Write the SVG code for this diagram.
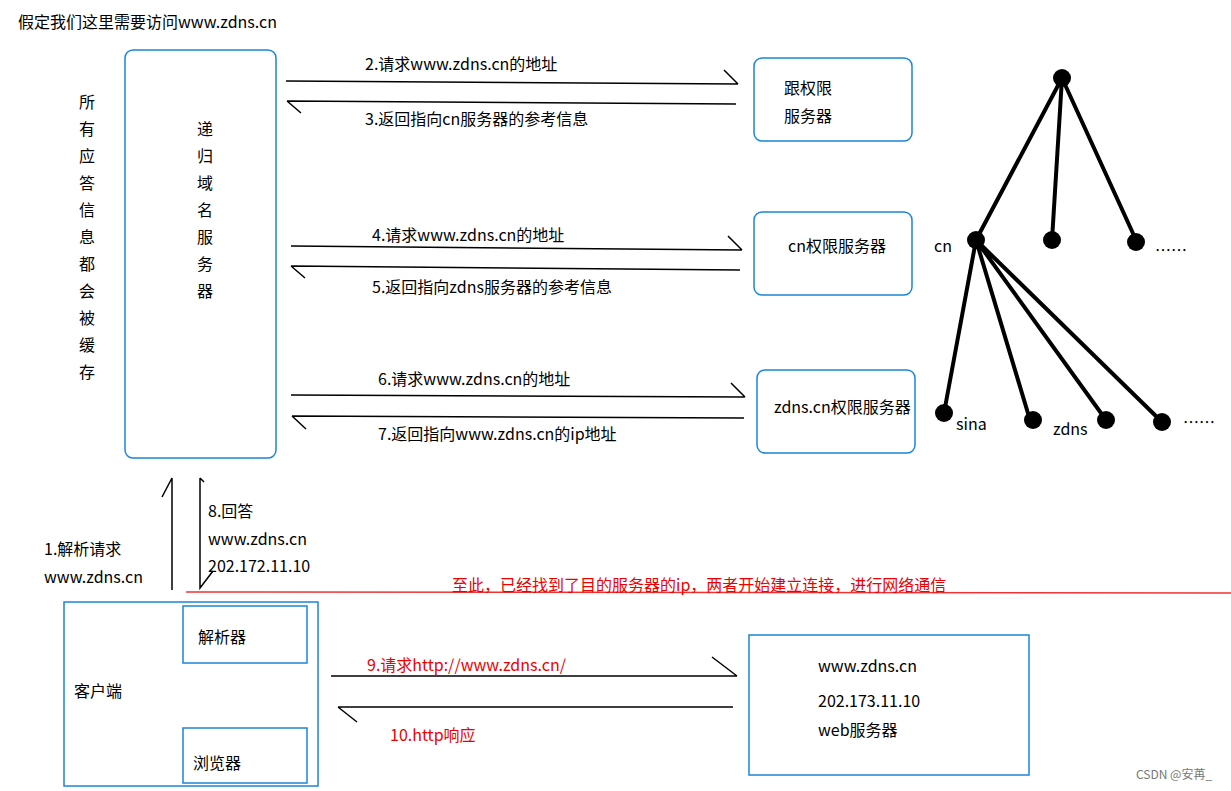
<svg xmlns="http://www.w3.org/2000/svg" width="1231" height="791" viewBox="0 0 1231 791">
<style>
text{font-family:"Microsoft YaHei","Noto Sans CJK SC","Liberation Sans",sans-serif;font-size:16px;fill:#000}
.r{fill:#e00}
.box{fill:#fff;stroke:#1a86d8;stroke-width:1.5}
.ln{stroke:#000;stroke-width:1.5;fill:none}
.tr{stroke:#000;stroke-width:4}
</style>
<rect width="1231" height="791" fill="#fff"/>
<text x="18" y="28">假定我们这里需要访问www.zdns.cn</text>
<g id="cache-note"><text x="79" y="108">所</text><text x="79" y="135">有</text><text x="79" y="162">应</text><text x="79" y="189">答</text><text x="79" y="216">信</text><text x="79" y="243">息</text><text x="79" y="270">都</text><text x="79" y="297">会</text><text x="79" y="324">被</text><text x="79" y="351">缓</text><text x="79" y="378">存</text></g>
<g id="recursive"><rect class="box" x="125" y="50" width="151" height="408" rx="8"/>
<text x="197" y="135">递</text><text x="197" y="162">归</text><text x="197" y="189">域</text><text x="197" y="216">名</text><text x="197" y="243">服</text><text x="197" y="270">务</text><text x="197" y="297">器</text></g>
<g id="root"><rect class="box" x="754" y="58" width="158" height="83" rx="8"/><text x="784" y="94">跟权限</text><text x="784" y="122">服务器</text></g>
<g id="cn"><rect class="box" x="754" y="212" width="158" height="83" rx="8"/><text x="788" y="252">cn权限服务器</text></g>
<g id="zdns"><rect class="box" x="757" y="370" width="158" height="83" rx="8"/><text x="774" y="413">zdns.cn权限服务器</text></g>
<g id="client"><rect class="box" x="64" y="602" width="254" height="184" rx="0"/><text x="74" y="697">客户端</text></g>
<g id="resolver"><rect class="box" x="183" y="606" width="124" height="57"/><text x="198" y="643">解析器</text></g>
<g id="browser"><rect class="box" x="183" y="728" width="124" height="55"/><text x="193" y="769">浏览器</text></g>
<g id="web"><rect class="box" x="749" y="635" width="280" height="140" rx="0"/><text x="818" y="672">www.zdns.cn</text><text x="818" y="707">202.173.11.10</text><text x="818" y="736">web服务器</text></g>
<g id="connectors">
<path class="ln" d="M286 81 L738 84 M724 70 L738 84"/>
<path class="ln" d="M736 104 L287 101 M287 101 L301 113"/>
<path class="ln" d="M291 246 L742 250 M728 236 L742 250"/>
<path class="ln" d="M740 270 L291 266 M291 266 L305 278"/>
<path class="ln" d="M291 395 L745 397 M731 383 L745 397"/>
<path class="ln" d="M744 418 L292 416 M292 416 L306 429"/>
<path class="ln" d="M172 590 L172 478 L162 497"/>
<path class="ln" d="M200 478 L200 588 L213 571 M200 478 L204 482"/>
<path class="ln" d="M331 676 L737 676 M712 657 L737 676"/>
<path class="ln" d="M733 707 L338 707 M338 707 L357 722"/>
<line x1="186" y1="592" x2="1231" y2="593" stroke="#e33" stroke-width="1.5"/>
</g>
<text x="208" y="517">8.回答</text><text x="208" y="545">www.zdns.cn</text><text x="208" y="572">202.172.11.10</text>
<text x="44" y="555">1.解析请求</text><text x="44" y="583">www.zdns.cn</text>
<text x="365" y="70">2.请求www.zdns.cn的地址</text>
<text x="365" y="125">3.返回指向cn服务器的参考信息</text>
<text x="372" y="241">4.请求www.zdns.cn的地址</text>
<text x="372" y="293">5.返回指向zdns服务器的参考信息</text>
<text x="378" y="385">6.请求www.zdns.cn的地址</text>
<text x="378" y="440">7.返回指向www.zdns.cn的ip地址</text>
<text class="r" x="452" y="591">至此，已经找到了目的服务器的ip，两者开始建立连接，进行网络通信</text>
<text class="r" x="367" y="671">9.请求http://www.zdns.cn/</text>
<text class="r" x="390" y="741">10.http响应</text>
<g id="tree">
<path class="tr" d="M1062 78 L976 240 M1062 78 L1052 240 M1062 78 L1136 240 M976 240 L944 413 M976 240 L1030 420 M976 240 L1106 420 M976 240 L1162 422"/>
<g fill="#000"><circle cx="1062" cy="78" r="9"/><circle cx="976" cy="240" r="9"/><circle cx="1052" cy="240" r="9"/><circle cx="1136" cy="242" r="9"/><circle cx="944" cy="413" r="9"/><circle cx="1033" cy="420" r="9"/><circle cx="1106" cy="420" r="9"/><circle cx="1162" cy="422" r="9"/></g>
<text x="934" y="252">cn</text><text x="1155" y="256">……</text><text x="956" y="430">sina</text><text x="1053" y="435">zdns</text><text x="1183" y="428">……</text>
</g>
<text x="1136" y="779" style="font-size:12px;fill:#777">CSDN @安苒_</text>
</svg>
